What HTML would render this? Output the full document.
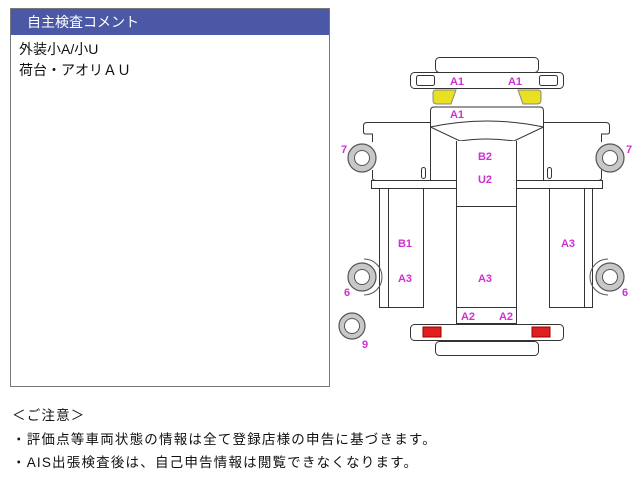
<!DOCTYPE html>
<html><head><meta charset="utf-8"><style>
body{margin:0;width:640px;height:480px;background:#fff;position:relative;overflow:hidden;font-family:"Liberation Sans","Noto Sans CJK JP",sans-serif;}
.panel{position:absolute;left:10px;top:8px;width:320px;height:379px;border:1px solid #777;box-sizing:border-box;}
.hd{height:26px;background:#4b58a6;color:#fff;font-size:14px;line-height:26px;padding-left:16px;}
.bd{font-size:14px;color:#111;padding:4px 0 0 8px;line-height:21px;}
.note{position:absolute;left:12px;font-size:13.5px;letter-spacing:1.2px;color:#111;white-space:nowrap;}
svg{position:absolute;left:0;top:0;}
svg text{font-family:"Liberation Sans",sans-serif;font-weight:bold;font-size:11px;fill:#d030d0;text-anchor:middle;}
</style></head><body>
<div class="panel"><div class="hd">自主検査コメント</div><div class="bd">外装小A/小U<br>荷台・アオリＡＵ</div></div>
<div class="note" style="top:404px">＜ご注意＞</div>
<div class="note" style="top:428px">・評価点等車両状態の情報は全て登録店様の申告に基づきます。</div>
<div class="note" style="top:451px">・AIS出張検査後は、自己申告情報は閲覧できなくなります。</div>
<svg width="640" height="480" fill="none" stroke="#333" stroke-width="1">
<rect x="435.5" y="57.5" width="103" height="15" rx="4" fill="#fff"/>
<rect x="410.5" y="72.5" width="153" height="16" rx="4" fill="#fff"/>
<rect x="416.5" y="75.5" width="18" height="10" rx="2"/>
<rect x="539.5" y="75.5" width="18" height="10" rx="2"/>
<path d="M435 90 H456 L451 104 H437 Q433 104 433 100 V93 Q433 90 436 90Z" fill="#e8e020" stroke="#888"/>
<path d="M539 90 H518 L523 104 H537 Q541 104 541 100 V93 Q541 90 538 90Z" fill="#e8e020" stroke="#888"/>
<path d="M430.5 127 V111 Q430.5 107 434 107 H540 Q543.5 107 543.5 111 V127" fill="#fff"/>
<path d="M430.5 122.5 H367 Q363.5 122.5 363.5 126 V132 Q363.5 134 366 134 H372.5 V142"/>
<path d="M543.5 122.5 H606 Q609.5 122.5 609.5 126 V132 Q609.5 134 607 134 H601.5 V142"/>
<path d="M372.5 170 V178 Q372.5 180.5 376 180.5 H598 Q601.5 180.5 601.5 178 V170"/>
<rect x="371.5" y="180.5" width="231" height="8" fill="#fff"/>
<line x1="430.5" y1="127" x2="430.5" y2="180"/>
<line x1="543.5" y1="127" x2="543.5" y2="180"/>
<path d="M430.5 127 Q487 115 543.5 127"/>
<path d="M430.5 127 L460 141 Q487 137 514 141 L543.5 127"/>
<rect x="421.5" y="167.5" width="4" height="11" rx="2"/>
<rect x="547.5" y="167.5" width="4" height="11" rx="2"/>
<path d="M456.5 141 V323.5 H516.5 V141" fill="#fff"/>
<line x1="456.5" y1="206.5" x2="516.5" y2="206.5"/>
<line x1="456.5" y1="307.5" x2="516.5" y2="307.5"/>
<rect x="379.5" y="188.5" width="44" height="119"/>
<line x1="388.5" y1="188.5" x2="388.5" y2="307.5"/>
<rect x="549.5" y="188.5" width="43" height="119"/>
<line x1="584.5" y1="188.5" x2="584.5" y2="307.5"/>
<g fill="#c8c8c8" stroke="#555" stroke-width="1.2">
<circle cx="362" cy="158" r="14"/><circle cx="610" cy="158" r="14"/>
<circle cx="362" cy="277" r="14"/><circle cx="610" cy="277" r="14"/>
<circle cx="352" cy="326" r="13"/>
</g>
<g fill="#fff" stroke="#555">
<circle cx="362" cy="158" r="7.5"/><circle cx="610" cy="158" r="7.5"/>
<circle cx="362" cy="277" r="7.5"/><circle cx="610" cy="277" r="7.5"/>
<circle cx="352" cy="326" r="7.5"/>
</g>
<path d="M364 259 A18 18 0 0 1 364 295" stroke="#555"/>
<path d="M608 259 A18 18 0 0 0 608 295" stroke="#555"/>
<rect x="410.5" y="324.5" width="153" height="16" rx="4" fill="#fff"/>
<rect x="423" y="327" width="18" height="10" fill="#e02020" stroke="#900"/>
<rect x="532" y="327" width="18" height="10" fill="#e02020" stroke="#900"/>
<rect x="435.5" y="341.5" width="103" height="14" rx="4" fill="#fff"/>
<g stroke="none">
<text x="457" y="85">A1</text><text x="515" y="85">A1</text>
<text x="457" y="118">A1</text>
<text x="485" y="160">B2</text><text x="485" y="183">U2</text>
<text x="405" y="247">B1</text><text x="405" y="282">A3</text>
<text x="485" y="282">A3</text><text x="568" y="247">A3</text>
<text x="468" y="320">A2</text><text x="506" y="320">A2</text>
<text x="344" y="153">7</text><text x="629" y="153">7</text>
<text x="347" y="296">6</text><text x="625" y="296">6</text>
<text x="365" y="348">9</text>
</g>
</svg>
</body></html>
